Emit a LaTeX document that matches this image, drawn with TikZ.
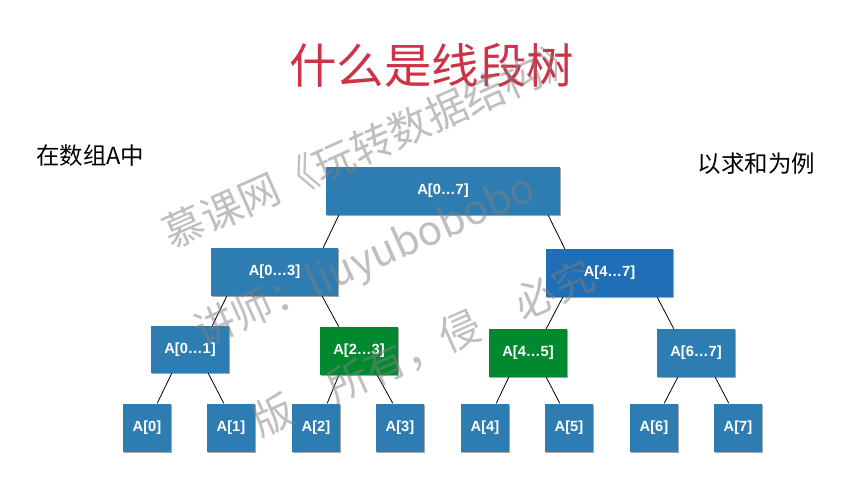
\documentclass[tikz,border=0pt]{standalone}
\usepackage{fontspec}
\setmainfont{Liberation Sans}
\newfontfamily\cjk{Noto Sans CJK SC}
\usetikzlibrary{shadows}
\definecolor{boxblue}{RGB}{46,125,178}
\definecolor{boxdeep}{RGB}{31,110,182}
\definecolor{boxgreen}{RGB}{0,137,46}
\definecolor{titlered}{RGB}{205,50,70}
\begin{document}
\begin{tikzpicture}[x=1pt,y=-1pt,
  seg/.style={fill=boxblue, minimum height=48pt, inner sep=0pt, text=white,
    font=\fontsize{14.7}{17}\selectfont\bfseries,
    drop shadow={shadow xshift=1.2pt, shadow yshift=-1.2pt, opacity=0.35, fill=black}},
  wide/.style={seg, minimum width=234pt},
  half/.style={seg, minimum width=127pt},
  quarter/.style={seg, minimum width=78pt},
  leaf/.style={seg, minimum width=48pt},
  hot/.style={fill=boxgreen},
  deep/.style={fill=boxdeep},
  edge/.style={draw=black, line width=0.8pt},
  wm/.style={font=\cjk\fontsize{41}{41}\selectfont, text=gray, text opacity=0.5,
    rotate=24, anchor=base, inner sep=0pt},
  lbl/.style={font=\cjk\fontsize{23.5}{26}\selectfont, text=black, inner sep=0pt}
]
\useasboundingbox (0,0) rectangle (859,481);

\node[font=\cjk\fontsize{47.5}{50}\selectfont, text=titlered, inner sep=0pt] (title) at (431.5,65) {什么是线段树};
\node[lbl, anchor=west] (left) at (36,156) {在数组A中};
\node[lbl] (right) at (756.5,163.5) {以求和为例};

\node[wide] (root) at (443,191) {A[0…7]};
\node[half] (n03) at (274.5,272) {A[0…3]};
\node[half, deep] (n47) at (609.5,273) {A[4…7]};
\node[quarter, minimum height=47pt] (n01) at (190,349.5) {A[0…1]};
\node[quarter, hot] (n23) at (359,351) {A[2…3]};
\node[quarter, hot] (n45) at (528,353) {A[4…5]};
\node[quarter] (n67) at (696,353) {A[6…7]};
\node[leaf] (l0) at (147,427.5) {A[0]};
\node[leaf] (l1) at (231,427.5) {A[1]};
\node[leaf] (l2) at (316,427.5) {A[2]};
\node[leaf] (l3) at (400,427.5) {A[3]};
\node[leaf] (l4) at (485,427.5) {A[4]};
\node[leaf] (l5) at (569,427.5) {A[5]};
\node[leaf] (l6) at (654,427.5) {A[6]};
\node[leaf] (l7) at (738,427.5) {A[7]};

\draw[edge] ([xshift=13pt]root.south west) -- ([xshift=-15pt]n03.north east);
\draw[edge] ([xshift=-12pt]root.south east) -- ([xshift=19pt]n47.north west);
\draw[edge] ([xshift=16pt]n03.south west) -- ([xshift=-17pt]n01.north east);
\draw[edge] ([xshift=-16pt]n03.south east) -- ([xshift=19pt]n23.north west);
\draw[edge] ([xshift=17pt]n47.south west) -- ([xshift=-21pt]n45.north east);
\draw[edge] ([xshift=-16pt]n47.south east) -- ([xshift=17pt]n67.north west);
\draw[edge] ([xshift=21pt]n01.south west) -- ([xshift=-14pt]l0.north east);
\draw[edge] ([xshift=-21pt]n01.south east) -- ([xshift=17pt]l1.north west);
\draw[edge] ([xshift=19pt]n23.south west) -- ([xshift=-13pt]l2.north east);
\draw[edge] ([xshift=-21pt]n23.south east) -- ([xshift=17pt]l3.north west);
\draw[edge] ([xshift=20pt]n45.south west) -- ([xshift=-13pt]l4.north east);
\draw[edge] ([xshift=-21pt]n45.south east) -- ([xshift=15pt]l5.north west);
\draw[edge] ([xshift=21pt]n67.south west) -- ([xshift=-14pt]l6.north east);
\draw[edge] ([xshift=-20pt]n67.south east) -- ([xshift=15pt]l7.north west);

\node[wm] (wm1) at (378,158) {慕课网《玩转数据结构》};
\node[wm] (wm2) at (370,273) {讲师：liuyubobobo};
\node[wm] (wm3) at (429,362) {版\hspace{1em}所有，侵\hspace{1em}必究};
\end{tikzpicture}
\end{document}
